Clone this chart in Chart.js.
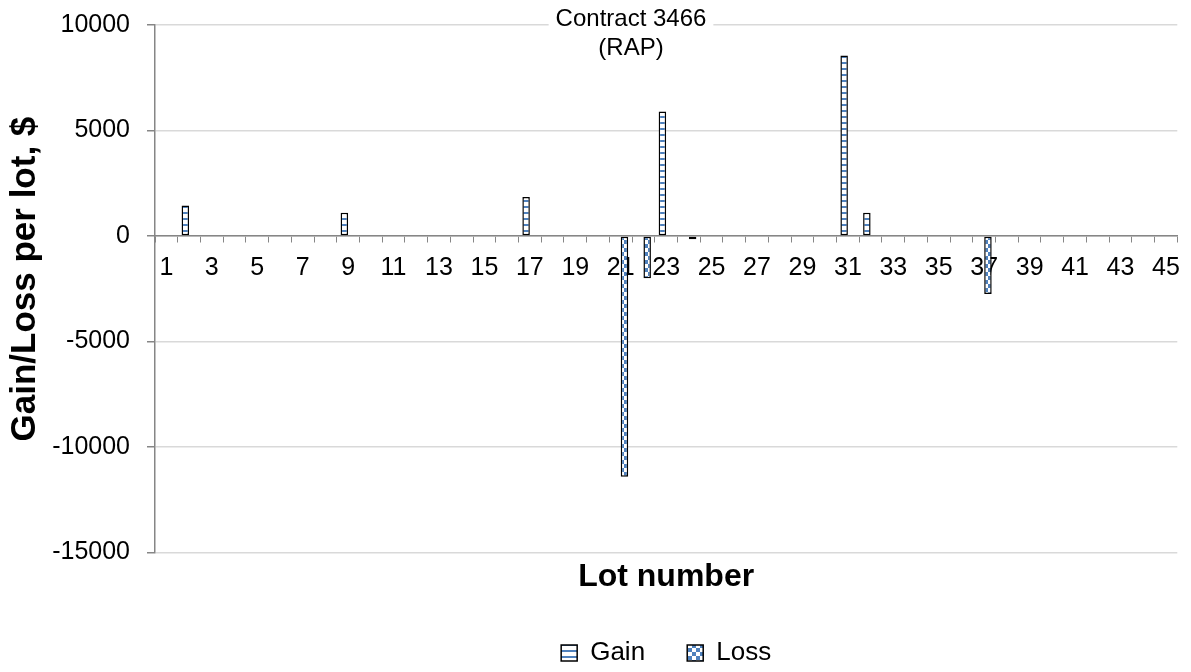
<!DOCTYPE html>
<html>
<head>
<meta charset="utf-8">
<script src="https://cdn.jsdelivr.net/npm/chart.js@4.4.1/dist/chart.umd.min.js"></script>
<style>
  html, body { margin: 0; padding: 0; background: #fff; }
  #wrap { width: 1191px; height: 672px; }
</style>
</head>
<body>
<div id="wrap"><canvas id="lotChart" width="1191" height="672"></canvas></div>
<script>
// lot numbers on the x axis
const lots = ["1", "2", "3", "4", "5", "6", "7", "8", "9", "10",
              "11", "12", "13", "14", "15", "16", "17", "18", "19", "20",
              "21", "22", "23", "24", "25", "26", "27", "28", "29", "30",
              "31", "32", "33", "34", "35", "36", "37", "38", "39", "40",
              "41", "42", "43", "44", "45"];

// gain per lot, $
const gain = [null, 1450, null, null, null, null, null, null, 1100, null,
              null, null, null, null, null, null, 1850, null, null, null,
              null, null, 5900, null, null, null, null, null, null, null,
              8550, 1100, null, null, null, null, null, null, null, null,
              null, null, null, null, null];

// loss per lot, $
const loss = [null, null, null, null, null, null, null, null, null, null,
              null, null, null, null, null, null, null, null, null, null,
              -11400, -2000, null, -150, null, null, null, null, null, null,
              null, null, null, null, null, null, -2750, null, null, null,
              null, null, null, null, null];

const yTicks = [-15000, -10000, -5000, 0, 5000, 10000];
const chartTitle = ["Contract 3466", "(RAP)"];

const BLUE = "#4F81BD";
const AXIS = "#868686";
const FONT = "'Liberation Sans', Arial, sans-serif";

// excel-like fill patterns
function makePattern(kind) {
    let c = document.createElement("canvas");
    let g = c.getContext("2d");
    c.width = 8;
    c.height = kind === "hlines" ? 6 : 8;
    g.fillStyle = "#ffffff";
    g.fillRect(0, 0, c.width, c.height);
    g.fillStyle = BLUE;
    if (kind === "hlines") {
        g.fillRect(0, 2, 8, 2);
    } else {
        g.fillRect(0, 0, 4, 4);
        g.fillRect(4, 4, 4, 4);
    }
    return g.createPattern(c, "repeat");
}

const gainFill = makePattern("hlines");
const lossFill = makePattern("checker");

// title sits over the plot area with a white box behind it
const topTitle = {
    id: "topTitle",
    afterDraw(chart) {
        let ctx = chart.ctx;
        ctx.save();
        ctx.font = "24px " + FONT;
        let w = Math.max(...chartTitle.map(t => ctx.measureText(t).width));
        let cx = 631;
        ctx.fillStyle = "#ffffff";
        ctx.fillRect(cx - w / 2 - 7, 0, w + 14, 64);
        ctx.fillStyle = "#000";
        ctx.textAlign = "center";
        ctx.textBaseline = "alphabetic";
        chartTitle.forEach((t, i) => ctx.fillText(t, cx, 26 + i * 29));
        ctx.restore();
    }
};

const ctx = document.getElementById("lotChart").getContext("2d");

new Chart(ctx, {
    type: "bar",
    data: {
        labels: lots,
        datasets: [
            {
                label: "Gain",
                data: gain,
                backgroundColor: gainFill,
                borderColor: "#000",
                borderWidth: 1.5,
                borderSkipped: false,
                categoryPercentage: 0.66,
                barPercentage: 1.0
            },
            {
                label: "Loss",
                data: loss,
                backgroundColor: lossFill,
                borderColor: "#000",
                borderWidth: 1.5,
                borderSkipped: false,
                categoryPercentage: 0.66,
                barPercentage: 1.0
            }
        ]
    },
    options: {
        responsive: false,
        animation: false,
        layout: { padding: { top: 25, right: 12, bottom: -4, left: 0 } },
        scales: {
            x: {
                position: { y: 0 },
                grid: {
                    offset: true,
                    drawOnChartArea: false,
                    drawTicks: true,
                    tickLength: 6,
                    tickColor: AXIS
                },
                border: { color: AXIS, width: 1.5 },
                ticks: {
                    autoSkip: false,
                    maxRotation: 0,
                    padding: 11,
                    color: "#000",
                    font: { family: FONT, size: 25 },
                    callback: (v, i) => (i % 2 === 0 ? lots[i] : "")
                }
            },
            y: {
                min: -15000,
                max: 10000,
                afterFit(scale) {
                    scale.width = 155;
                    scale.paddingTop = 0;
                    scale.paddingBottom = 0;
                },
                afterBuildTicks(scale) { scale.ticks = yTicks.map(v => ({ value: v })); },
                grid: {
                    color: "#d9d9d9",
                    lineWidth: 1.5,
                    tickColor: AXIS,
                    tickLength: 8
                },
                border: { color: AXIS, width: 1.5 },
                ticks: {
                    padding: 17,
                    color: "#000",
                    font: { family: FONT, size: 25 },
                    callback: v => String(v)
                },
                title: {
                    display: true,
                    text: "  Gain/Loss per lot, $",
                    color: "#000",
                    font: { family: FONT, size: 35, weight: "bold" },
                    padding: { top: 4, bottom: 0 }
                }
            }
        },
        plugins: {
            tooltip: { enabled: false },
            title: {
                display: true,
                position: "bottom",
                text: "Lot number",
                fullSize: false,
                weight: 500,
                color: "#000",
                font: { family: FONT, size: 32, weight: "bold" },
                padding: { top: 5, bottom: 38 }
            },
            legend: {
                position: "bottom",
                fullSize: false,
                labels: {
                    color: "#000",
                    font: { family: FONT, size: 26, lineHeight: 1 },
                    boxWidth: 16,
                    boxHeight: 16,
                    padding: 6,
                    generateLabels(chart) {
                        let items = Chart.defaults.plugins.legend.labels.generateLabels(chart);
                        items[0].text += "     ";  // wider gap like excel
                        return items;
                    }
                }
            }
        }
    },
    plugins: [topTitle]
});
</script>
</body>
</html>
